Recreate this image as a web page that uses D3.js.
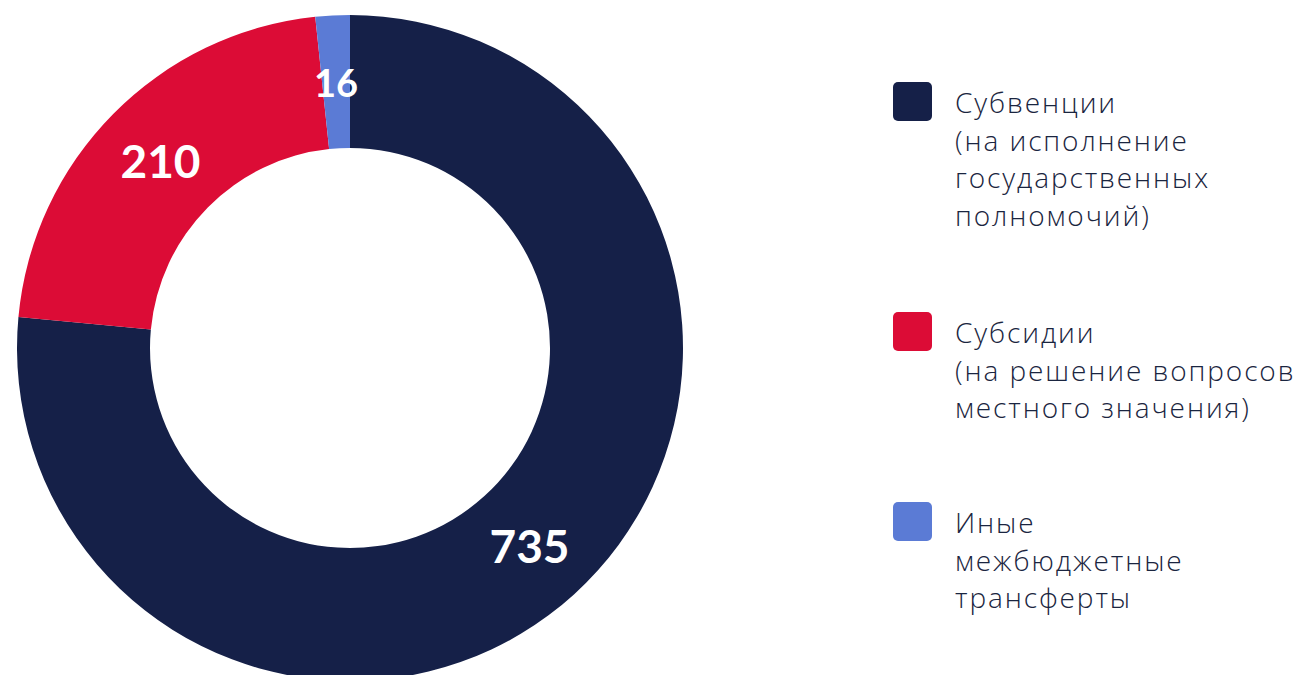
<!DOCTYPE html>
<html><head><meta charset="utf-8">
<script src="https://cdn.jsdelivr.net/npm/d3@7"></script>
<style>html,body{margin:0;padding:0;background:#fff;overflow:hidden}</style>
</head><body>
<svg id="chart" width="1303" height="675"></svg>
<script>
const categories = ["Субвенции", "Субсидии", "Иные межбюджетные трансферты"];
const values = [735, 210, 16];
const colors = ["#152048", "#dc0c36", "#5b7bd5"];
const legendLines = [
  ["Субвенции", "(на исполнение", "государственных", "полномочий)"],
  ["Субсидии", "(на решение вопросов", "местного значения)"],
  ["Иные", "межбюджетные", "трансферты"]
];
const labelSizes = [46, 46, 38];

const svg = d3.select("#chart");
const cx = 350, cy = 348, rOuter = 333, rInner = 200;

const pie = d3.pie().sort(null).value(d => d.v);
const arcs = pie(values.map((v, i) => ({v, i})));
const arc = d3.arc().innerRadius(rInner).outerRadius(rOuter);

const g = svg.append("g").attr("transform", `translate(${cx},${cy})`);
g.selectAll("path").data(arcs).join("path")
  .attr("d", arc)
  .attr("fill", d => colors[d.data.i]);

g.selectAll("text").data(arcs).join("text")
  .attr("transform", d => `translate(${arc.centroid(d)})`)
  .attr("text-anchor", "middle")
  .attr("dominant-baseline", "central")
  .attr("font-family", "Lato, 'Open Sans', sans-serif")
  .attr("font-weight", "bold")
  .attr("font-size", d => labelSizes[d.data.i])
  .attr("fill", "#fff")
  .text(d => d.data.v);

const legendTops = [82, 312, 502];
const lg = svg.append("g");
categories.forEach((c, i) => {
  const item = lg.append("g").attr("transform", `translate(893,${legendTops[i]})`);
  item.append("rect").attr("width", 39).attr("height", 39).attr("rx", 5).attr("fill", colors[i]);
  const t = item.append("text")
    .attr("font-family", "'Open Sans', sans-serif")
    .attr("font-weight", 300)
    .attr("font-size", 28)
    .attr("letter-spacing", 1.9)
    .attr("fill", "#1a2540");
  legendLines[i].forEach((line, j) => {
    t.append("tspan").attr("x", 62).attr("y", 31 + j * 37.5).text(line);
  });
});
</script>
</body></html>
